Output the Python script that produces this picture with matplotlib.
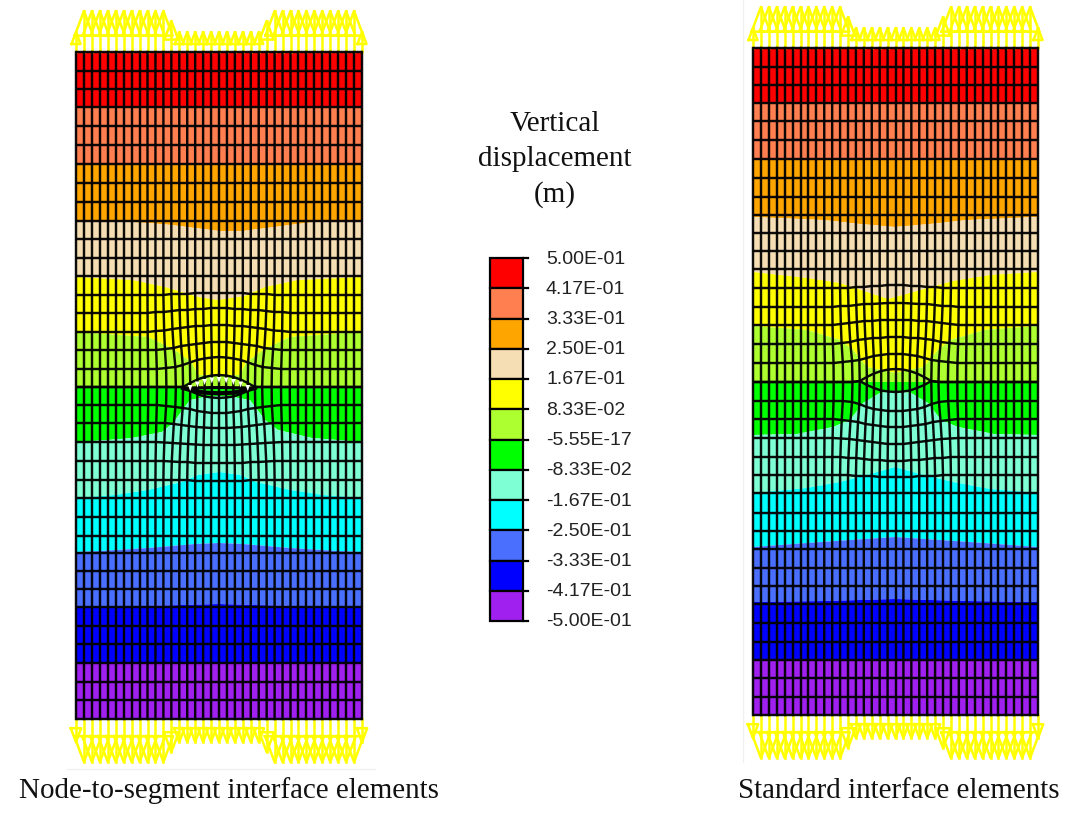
import matplotlib
matplotlib.use('Agg')
import matplotlib.pyplot as plt
import numpy as np

# colour scale
scale_labels = ['5.00E-01', '4.17E-01', '3.33E-01', '2.50E-01', '1.67E-01', '8.33E-02', '-5.55E-17',
                '-8.33E-02', '-1.67E-01', '-2.50E-01', '-3.33E-01', '-4.17E-01', '-5.00E-01']
band_colors = ['#ff0000', '#ff7f50', '#ffa500', '#f5deb3', '#ffff00', '#adff2f',
               '#00ff00', '#7fffd4', '#00ffff', '#4a6fff', '#0000ff', '#a020f0']

# mesh: node rows, image pixels
left_rows = [52, 70.5, 89, 107, 126, 145, 164, 183, 202, 221, 239, 258, 276, 295, 313, 332, 350, 369, 387,
             405, 423, 442, 461, 480, 498, 517, 536, 553, 571, 589, 607, 626, 644, 663, 682, 700, 719]
right_rows = [48, 66.5, 85, 103, 121, 140, 159, 178, 197, 215, 233, 251, 269, 288, 307, 325, 344, 363, 382,
              401, 419, 438, 457, 475, 493, 513, 531, 549, 568, 586, 604, 623, 642, 660, 678, 697, 715]
left_x = (76, 362)
right_x = (753, 1038)
hole_row = 18

# vertical shift of rows round the opening, by columns away from the centre (0..10)
left_sag = {13: [-2, -2, -2, -2, -1, -1, -1, 0, 0, 0, 0],
            14: [-5, -5, -4, -4, -3, -3, -2, -1, -1, 0, 0],
            15: [-7, -7, -6, -6, -5, -4, -3, -1.5, -1, 0, 0],
            16: [-8, -8, -7, -6, -5, -4, -2, -1, 0, 0, 0],
            17: [-12, -11.5, -10.5, -9, -6.5, -4, -2, -1, 0, 0, 0],
            19: [8, 8, 7, 6, 4, 3, 2, 1, 0, 0, 0],
            20: [5, 5, 4.5, 4, 3, 2, 1, 0, 0, 0, 0],
            21: [3, 3, 3, 2.5, 2, 1.5, 1, 0.5, 0, 0, 0],
            22: [2, 2, 2, 2, 1, 1, 0.5, 0, 0, 0, 0],
            23: [1, 1, 1, 1, 0, 0, 0, 0, 0, 0, 0]}
left_hole_top = [-12, -11.5, -10, -7.5, -4, 0, 0, 0, 0, 0, 0]
left_hole_bot = [11, 10.5, 9.5, 7, 4, 0, 0, 0, 0, 0, 0]

right_sag = {13: [-3, -3, -2, -2, -1, -1, 0, 0, 0, 0, 0],
             14: [-4, -4, -3.5, -3, -3, -2, -1, -1, 0, 0, 0],
             15: [-5, -5, -5, -4, -4, -3, -2, -1, 0, 0, 0],
             16: [-7, -7, -6, -6, -5, -4, -2, -1, 0, 0, 0],
             17: [-9, -9, -8, -7, -5, -3, -2, -1, 0, 0, 0],
             19: [10, 10, 9, 8, 6, 3, 1, 0, 0, 0, 0],
             20: [8, 8, 7, 6, 5, 3, 2, 1, 0, 0, 0],
             21: [6, 6, 5, 4, 3, 2, 1, 0.5, 0, 0, 0],
             22: [4, 4, 3, 3, 2, 1, 1, 0, 0, 0, 0],
             23: [2, 2, 2, 1, 1, 1, 0, 0, 0, 0, 0]}
right_hole_top = [-13, -12.5, -11, -8.5, -5, -1, 0, 0, 0, 0, 0]
right_hole_bot = [10, 9.5, 8.5, 6, 3, -1, 0, 0, 0, 0, 0]

# columns lean in towards the opening
col_pull = [0, 0.8, 1.5, 2.2, 3, 3.8, 4.5, 3, 1.5, 0.7, 0]
pull_rows = {14: 0.1, 15: 0.25, 16: 0.5, 17: 0.9, 18: 1, 19: 0.9, 20: 0.55, 21: 0.3, 22: 0.1}

# colour band boundaries (x list, y list), top to bottom
left_bands = [
    ([76, 362], [52, 52]),
    ([76, 362], [107, 107]),
    ([76, 362], [164, 164]),
    ([76, 124, 148, 171, 195, 219, 243, 267, 290, 314, 362], [221, 222, 223, 225, 228, 231, 231, 228, 225, 222, 221]),
    ([76, 132, 165, 198, 218, 245, 265, 298, 362], [277, 280, 287, 297, 300, 296, 287, 280, 277]),
    ([76, 148, 175, 192, 198, 219, 240, 246, 263, 290, 362], [332, 337, 350, 363, 375, 376, 375, 363, 350, 337, 332]),
    ([76, 362], [387, 387]),
    ([76, 108, 132, 162, 173, 190, 205, 219, 233, 250, 265, 278, 312, 362],
     [442, 440, 438, 432, 423, 400, 397, 396, 397, 400, 420, 430, 438, 442]),
    ([76, 115, 148, 182, 198, 219, 240, 256, 290, 323, 362], [498, 495, 490, 482, 475, 472, 475, 482, 490, 495, 498]),
    ([76, 100, 148, 195, 219, 243, 290, 338, 362], [552, 551, 548, 544, 543, 544, 548, 551, 552]),
    ([76, 148, 219, 290, 362], [607, 606, 604, 606, 607]),
    ([76, 362], [663, 663]),
    ([76, 362], [719, 719]),
]
right_bands = [
    ([753, 1038], [48, 48]),
    ([753, 1038], [103, 103]),
    ([753, 1038], [160, 160]),
    ([753, 823, 860, 895, 930, 968, 1038], [217, 220, 224, 227, 224, 220, 217]),
    ([753, 807, 840, 867, 888, 917, 953, 990, 1038], [272, 278, 283, 292, 299, 291, 281, 275, 272]),
    ([753, 807, 840, 853, 867, 895, 924, 938, 951, 984, 1038], [326, 330, 340, 350, 367, 373, 367, 350, 340, 330, 326]),
    ([753, 1038], [382, 382]),
    ([753, 797, 833, 850, 863, 880, 895, 911, 928, 941, 958, 994, 1038],
     [435, 434, 427, 420, 403, 393, 391, 393, 403, 420, 427, 434, 435]),
    ([753, 807, 840, 867, 895, 920, 953, 990, 1038], [493, 488, 482, 475, 467, 474, 482, 489, 493]),
    ([753, 807, 850, 895, 940, 984, 1038], [547, 543, 540, 537, 540, 543, 547]),
    ([753, 825, 895, 966, 1038], [602, 601, 599, 601, 602]),
    ([753, 1038], [659, 659]),
    ([753, 1038], [715, 715]),
]

# restraint arrows: length per node at top and bottom
top_arrows = [20] + [41] * 11 + [31] + [20] * 11 + [31] + [41] * 11 + [20]
bot_arrows = [23] + [43] * 11 + [33] + [23] * 11 + [33] + [43] * 11 + [23]

fig = plt.figure(figsize=(10.76, 8.15), dpi=100)
ax = fig.add_axes([0, 0, 1, 1])
ax.set_xlim(0, 1076)
ax.set_ylim(815, 0)
ax.axis('off')


def draw_panel(x_lim, rows, sag, hole_top, hole_bot, bands):
    cols = np.linspace(x_lim[0], x_lim[1], 37)
    centre = 18

    # band fills
    for k, col in enumerate(band_colors):
        xa, ya = bands[k]
        xb, yb = bands[k + 1]
        ax.fill(list(xa) + list(xb)[::-1], list(ya) + list(yb)[::-1], color=col, lw=0, zorder=1)

    # arrows
    for j, x in enumerate(cols):
        for base, length, sign in [(rows[0], top_arrows[j], -1), (rows[-1], bot_arrows[j], 1)]:
            tip = base + sign * length
            head = 0.6 * length
            half = 0.375 * head
            neck = tip - sign * head
            ax.plot([x, x], [base, tip], color='#ffff00', lw=1.8, zorder=2)
            ax.plot([x - half, x, x + half, x - half], [neck, tip, neck, neck], color='#ffff00', lw=1.8, zorder=2)

    # node positions, hole row doubled
    n_cols = len(cols)
    xs, ys = [], []
    for i, y in enumerate(rows):
        shift = sag.get(i, [0] * 11)
        pull = pull_rows.get(i, 0)
        rx, ry = [], []
        for j in range(n_cols):
            d = abs(j - centre)
            dy = shift[d] if d <= 10 else 0
            p = col_pull[d] if d <= 10 else 0
            rx.append(cols[j] - np.sign(j - centre) * p * pull)
            ry.append(y + dy)
        if i == hole_row:
            xs.append(rx)
            ys.append([y + (hole_top[abs(j - centre)] if abs(j - centre) <= 10 else 0) for j in range(n_cols)])
            xs.append(rx)
            ys.append([y + (hole_bot[abs(j - centre)] if abs(j - centre) <= 10 else 0) for j in range(n_cols)])
        else:
            xs.append(rx)
            ys.append(ry)
    xs = np.array(xs)
    ys = np.array(ys)

    for r in range(xs.shape[0]):
        ax.plot(xs[r], ys[r], color='black', lw=1.75, zorder=3, solid_capstyle='butt', alpha=0.95)
    for c in range(xs.shape[1]):
        ax.plot(xs[:, c], ys[:, c], color='black', lw=1.75, zorder=3, solid_capstyle='projecting', alpha=0.95)
    return xs, ys


xs, ys = draw_panel(left_x, left_rows, left_sag, left_hole_top, left_hole_bot, left_bands)
draw_panel(right_x, right_rows, right_sag, right_hole_top, right_hole_bot, right_bands)

# left opening: the faces overlap, so it reads as dark with white gaps
top = ys[hole_row]
bot = ys[hole_row + 1]
hx = xs[hole_row]
ax.plot(hx[13:24], (top[13:24] + bot[13:24]) / 2 + 1, color='black', lw=2.2, zorder=4)
ax.plot(hx[13:24], (top[13:24] + 3 * bot[13:24]) / 4 + 1, color='black', lw=3, zorder=4)
for j in range(14, 23):
    xm = hx[j]
    ym = top[j]
    ax.fill([xm - 2.2, xm + 2.2, xm], [ym + 2, ym + 2, ym + 8], color='white', lw=0, zorder=5)

# colour scale
bar_left, bar_right, tick_end = 490, 523, 528
scale_top, scale_step = 258, 30.25
for k, col in enumerate(band_colors):
    ax.fill([bar_left, bar_right, bar_right, bar_left],
            [scale_top + k * scale_step, scale_top + k * scale_step,
             scale_top + (k + 1) * scale_step, scale_top + (k + 1) * scale_step],
            facecolor=col, edgecolor='black', lw=1.6, zorder=2)
for k, lab in enumerate(scale_labels):
    y = scale_top + k * scale_step
    ax.plot([bar_right, tick_end], [y, y], color='black', lw=1.6, zorder=2)
    ax.text(546, y + 1, lab, family='Liberation Sans', fontsize=14, color='#222222', va='center', ha='left')

# faint scan edges
ax.plot([67, 375], [769, 769], color='#f0f0f0', lw=1, zorder=0)
ax.plot([743, 743], [0, 762], color='#f0f0f0', lw=1, zorder=0)

# titles
for txt, y in [('Vertical', 124), ('displacement', 159), ('(m)', 195)]:
    ax.text(555, y, txt, family='Liberation Serif', fontsize=21, color='#111111', ha='center', va='center')
ax.text(228.5, 791, 'Node-to-segment interface elements', family='Liberation Serif', fontsize=20.85,
        color='#111111', ha='center', va='center')
ax.text(898.5, 791, 'Standard interface elements', family='Liberation Serif', fontsize=20.85,
        color='#111111', ha='center', va='center')

fig.savefig('out.png', dpi=100)
